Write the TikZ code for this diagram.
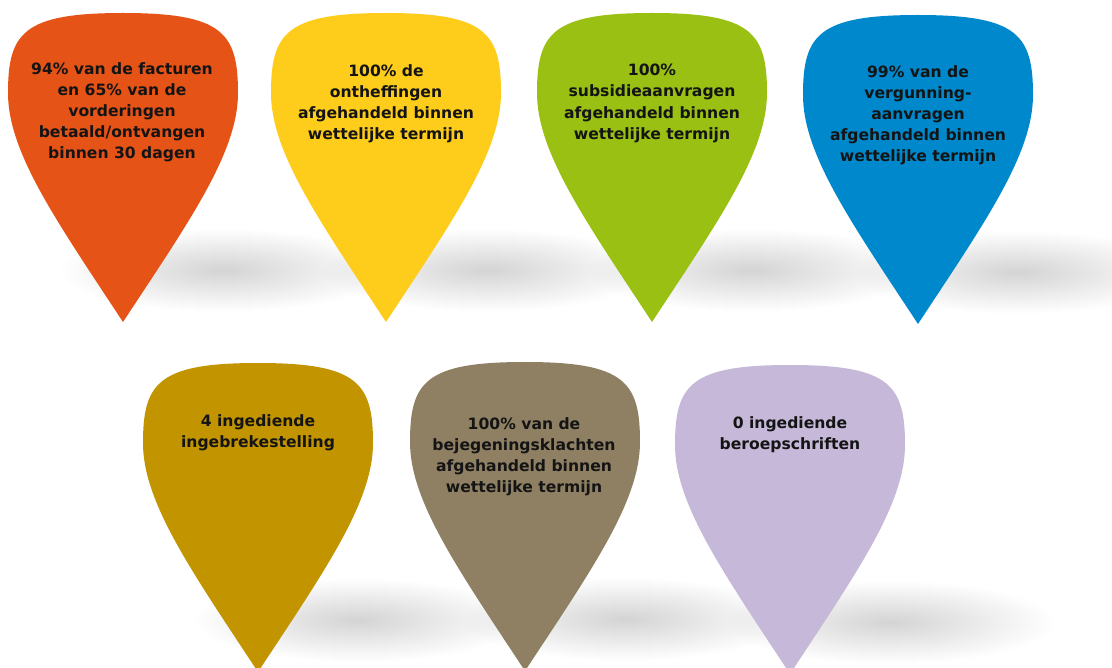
\documentclass[tikz,border=0pt]{standalone}
\usepackage{fontspec}
\setmainfont{DejaVu Sans}
\usetikzlibrary{calc}
\definecolor{pOrange}{RGB}{230,83,23}
\definecolor{pYellow}{RGB}{254,204,27}
\definecolor{pGreen}{RGB}{153,192,19}
\definecolor{pBlue}{RGB}{0,136,204}
\definecolor{pGold}{RGB}{194,148,0}
\definecolor{pTaupe}{RGB}{143,128,99}
\definecolor{pLilac}{RGB}{198,184,216}
\tikzset{
  picklabel/.style={anchor=north, inner sep=0pt, align=center, text=black!92,
    font=\bfseries\fontsize{15.6}{21.2}\selectfont},
  shadowblob/.style={inner color=black!17, outer color=white},
}
\newcommand\pickshape{(0,309) .. controls (65,210) and (115,140) .. (115,80)
  .. controls (115,20) and (100,0) .. (0,0)
  .. controls (-100,0) and (-115,20) .. (-115,80)
  .. controls (-115,140) and (-65,210) .. (0,309) -- cycle}
% #1 x, #2 top y
\newcommand\pickshadow[2]{%
  \shade[shadowblob] (#1+100,#2+257) ellipse (165 and 42);}
\newcommand\pickbody[3]{%
  \fill[#3, shift={(#1,#2)}] \pickshape;}
\begin{document}
\begin{tikzpicture}[x=1pt,y=-1pt]
\useasboundingbox (0,0) rectangle (1112,668);
\fill[white] (0,0) rectangle (1112,668);
\begin{scope}[blend mode=multiply]
  \pickshadow{123}{13}
  \pickshadow{386}{13}
  \pickshadow{652}{13}
  \pickshadow{918}{15}
  \pickshadow{258}{363}
  \pickshadow{525}{362}
  \pickshadow{790}{365}
\end{scope}
\pickbody{123}{13}{pOrange}
\pickbody{386}{13}{pYellow}
\pickbody{652}{13}{pGreen}
\pickbody{918}{15}{pBlue}
\pickbody{258}{363}{pGold}
\pickbody{525}{362}{pTaupe}
\pickbody{790}{365}{pLilac}
\node[picklabel] (t1) at (122,62) {94\% van de facturen\\en 65\% van de\\vorderingen\\betaald/ontvangen\\binnen 30 dagen};
\node[picklabel] (t2) at (386,64) {100\% de\\ontheffingen\\afgehandeld binnen\\wettelijke termijn};
\node[picklabel] (t3) at (652,64) {100\%\\subsidieaanvragen\\afgehandeld binnen\\wettelijke termijn};
\node[picklabel] (t4) at (918,65) {99\% van de\\vergunning-\\aanvragen\\afgehandeld binnen\\wettelijke termijn};
\node[picklabel] (t5) at (258,414) {4 ingediende\\ingebrekestelling};
\node[picklabel] (t6) at (524,417) {100\% van de\\bejegeningsklachten\\afgehandeld binnen\\wettelijke termijn};
\node[picklabel] (t7) at (790,416) {0 ingediende\\beroepschriften};
\end{tikzpicture}
\end{document}
